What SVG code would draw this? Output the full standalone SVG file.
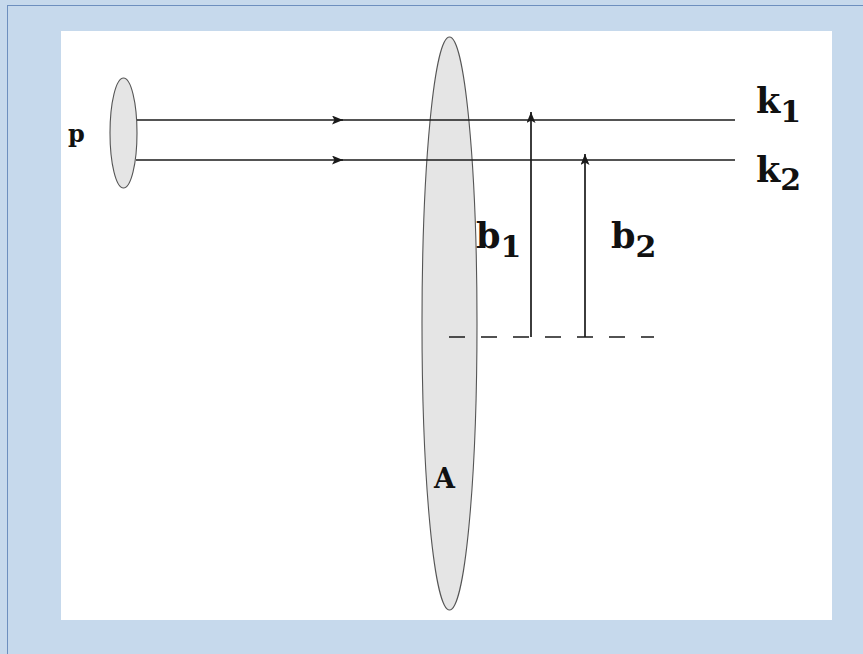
<svg xmlns="http://www.w3.org/2000/svg" width="863" height="654" viewBox="0 0 863 654">
  <defs>
    <style>
      .lbl { font-family: "DejaVu Serif", "Liberation Serif", serif; font-weight: bold; fill: #111; }
      .ln { stroke: #1a1a1a; stroke-width: 1.7; fill: none; }
      .blob { fill: #e5e5e5; stroke: #555; stroke-width: 1.1; }
    </style>
    <marker id="arr" viewBox="0 0 11 9" refX="11" refY="4.5" markerWidth="11" markerHeight="9" markerUnits="userSpaceOnUse" orient="auto">
      <path d="M0,0 L11,4.5 L0,9 L2.5,4.5 Z" fill="#1a1a1a"/>
    </marker>
  </defs>
  <rect x="0" y="0" width="863" height="654" fill="#c6d9ec"/>
  <rect x="7.5" y="5.5" width="870" height="660" fill="none" stroke="#6d8fbe" stroke-width="1"/>
  <rect x="61" y="31" width="771" height="589" fill="#ffffff"/>

  <g id="nucleus-A">
    <ellipse class="blob" cx="449.5" cy="323.5" rx="27.5" ry="286.5"/>
    <text class="lbl" x="434" y="488" font-size="27">A</text>
  </g>

  <g id="proton-p">
    <ellipse class="blob" cx="123.5" cy="133" rx="13.5" ry="55" stroke="#222"/>
    <text class="lbl" x="68" y="142" font-size="24">p</text>
  </g>

  <g id="connectors">
    <line class="ln" x1="137" y1="120" x2="343" y2="120" marker-end="url(#arr)"/>
    <line class="ln" x1="340" y1="120" x2="735" y2="120"/>
    <line class="ln" x1="136" y1="160" x2="343" y2="160" marker-end="url(#arr)"/>
    <line class="ln" x1="340" y1="160" x2="735" y2="160"/>
    <line class="ln" x1="449" y1="337" x2="654" y2="337" stroke-dasharray="16 16"/>
    <line class="ln" x1="531" y1="337" x2="531" y2="112" marker-end="url(#arr)"/>
    <line class="ln" x1="585" y1="337" x2="585" y2="154" marker-end="url(#arr)"/>
  </g>

  <g id="labels">
    <text class="lbl" x="476" y="248" font-size="35">b<tspan font-size="30" dy="9">1</tspan></text>
    <text class="lbl" x="611" y="248" font-size="35">b<tspan font-size="30" dy="9">2</tspan></text>
    <text class="lbl" x="756" y="113" font-size="35">k<tspan font-size="30" dy="9">1</tspan></text>
    <text class="lbl" x="756" y="182" font-size="35">k<tspan font-size="30" dy="8">2</tspan></text>
  </g>
</svg>
